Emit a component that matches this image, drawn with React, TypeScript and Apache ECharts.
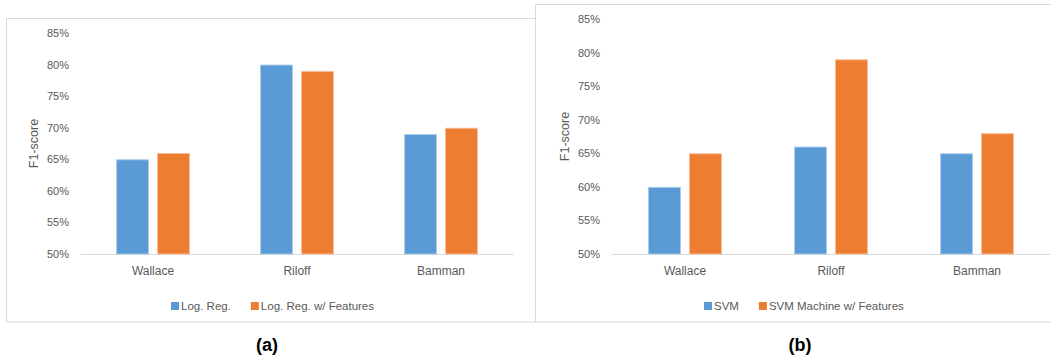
import React, { useEffect, useRef } from "react";
import * as echarts from "echarts";

const categories = ["Wallace", "Riloff", "Bamman"];
const logReg = [65, 80, 69];
const logRegFeatures = [66, 79, 70];
const svm = [60, 66, 65];
const svmFeatures = [65, 79, 68];
const yTicks = { min: 50, max: 85, interval: 5 };
const seriesNamesA = ["Log. Reg.", "Log. Reg. w/ Features"];
const seriesNamesB = ["SVM", "SVM Machine w/ Features"];
const panelTitles = ["(a)", "(b)"];
const yAxisName = "F1-score";

const BLUE = "#5B9BD5";
const ORANGE = "#ED7D31";
const TEXT = "#595959";
const LINE = "#D9D9D9";
const FONT = "Liberation Sans";

export default function App() {
  const ref = useRef<HTMLDivElement>(null);
  useEffect(() => {
    if (!ref.current) return;
    const chart = echarts.init(ref.current, undefined, { renderer: "svg" });
    const xAxis = (gridIndex: number) => ({
      type: "category",
      gridIndex,
      data: categories,
      axisLine: { show: true, lineStyle: { color: LINE, width: 1 } },
      axisTick: { show: false },
      axisLabel: { color: TEXT, fontSize: 12, fontFamily: FONT, margin: 11 },
    });
    const yAxis = (gridIndex: number) => ({
      type: "value",
      gridIndex,
      min: yTicks.min,
      max: yTicks.max,
      interval: yTicks.interval,
      name: yAxisName,
      nameLocation: "middle",
      nameRotate: 90,
      nameGap: 41,
      nameTextStyle: { color: TEXT, fontSize: 12.5, fontFamily: FONT },
      axisLine: { show: false },
      axisTick: { show: false },
      splitLine: { show: false },
      axisLabel: {
        color: TEXT,
        fontSize: 11,
        fontFamily: FONT,
        margin: 12,
        formatter: "{value}%",
      },
    });
    const bar = (name: string, data: number[], idx: number, color: string, edge: string) => ({
      type: "bar",
      name,
      data,
      xAxisIndex: idx,
      yAxisIndex: idx,
      barWidth: 33,
      barGap: "24%",
      itemStyle: { color, borderColor: edge, borderWidth: 1 },
    });
    const legend = (names: string[], left: number) => ({
      data: names,
      left,
      top: 295,
      icon: "rect",
      itemWidth: 8,
      itemHeight: 8,
      itemGap: 20,
      itemStyle: { borderWidth: 0 },
      textStyle: { color: TEXT, fontSize: 11.5, fontFamily: FONT, padding: [0, 0, 0, -3] },
    });
    chart.setOption({
      animation: false,
      backgroundColor: "#ffffff",
      grid: [
        { left: 81, right: 1051 - 513, top: 33, bottom: 361 - 254 },
        { left: 612, right: 1, top: 19, bottom: 361 - 254 },
      ],
      xAxis: [xAxis(0), xAxis(1)],
      yAxis: [yAxis(0), yAxis(1)],
      legend: [legend(seriesNamesA, 166), legend(seriesNamesB, 699)],
      series: [
        bar(seriesNamesA[0], logReg, 0, BLUE, "#A9CBEA"),
        bar(seriesNamesA[1], logRegFeatures, 0, ORANGE, "#F6BE98"),
        bar(seriesNamesB[0], svm, 1, BLUE, "#A9CBEA"),
        bar(seriesNamesB[1], svmFeatures, 1, ORANGE, "#F6BE98"),
      ],
      graphic: [
        {
          type: "rect",
          silent: true,
          z: -10,
          shape: { x: 6.5, y: 18.5, width: 529, height: 303.5 },
          style: { fill: "none", stroke: LINE, lineWidth: 1 },
        },
        {
          type: "rect",
          silent: true,
          z: -9,
          shape: { x: 535.5, y: 4.5, width: 530, height: 317.5 },
          style: { fill: "#ffffff", stroke: LINE, lineWidth: 1 },
        },
        {
          type: "text",
          x: 267,
          y: 345,
          style: {
            text: panelTitles[0],
            fill: "#000",
            font: "bold 18px Liberation Sans",
            align: "center",
            verticalAlign: "middle",
          },
        },
        {
          type: "text",
          x: 800,
          y: 345,
          style: {
            text: panelTitles[1],
            fill: "#000",
            font: "bold 18px Liberation Sans",
            align: "center",
            verticalAlign: "middle",
          },
        },
      ],
    });
    return () => chart.dispose();
  }, []);
  return (
    <div
      ref={ref}
      style={{ position: "absolute", left: 0, top: 0, width: 1051, height: 361 }}
    />
  );
}
